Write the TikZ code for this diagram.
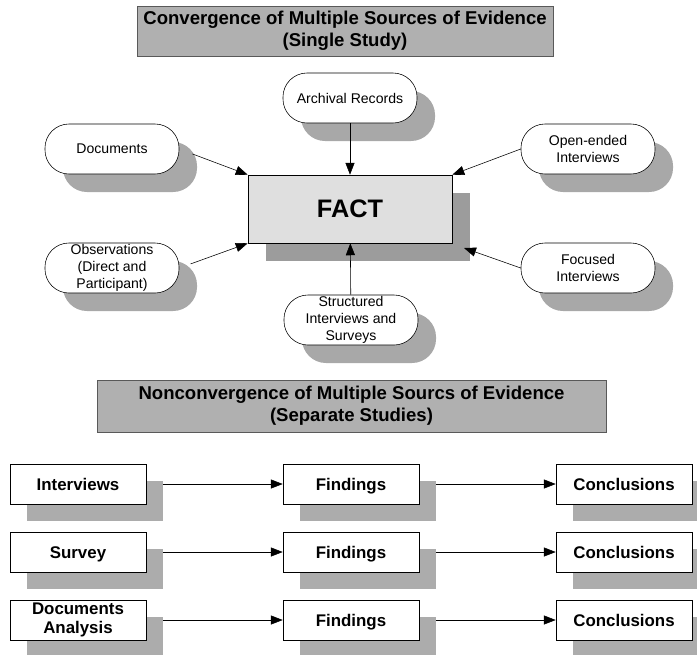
\documentclass[tikz,border=0pt]{standalone}
\usepackage{fontspec}
\setmainfont{Liberation Sans}
\usetikzlibrary{arrows.meta,shadows}

\begin{document}
\begin{tikzpicture}[x=0.025cm,y=-0.025cm,>={Triangle[length=8.5pt,width=6.5pt]},
		source node/.style={draw,fill=white,rounded corners=0.6cm,minimum width=3.35cm,minimum height=1.25cm,
			inner sep=0pt,align=center,font=\fontsize{10}{12}\selectfont,
			drop shadow={shadow xshift=0.45cm,shadow yshift=-0.45cm,fill=gray!68,opacity=1}},
		study node/.style={draw,fill=white,minimum width=3.4cm,minimum height=1cm,inner sep=0pt,
			text height=8.6pt,text depth=0pt,font=\fontsize{12}{14}\selectfont\bfseries,
			drop shadow={shadow xshift=0.425cm,shadow yshift=-0.425cm,fill=gray!65,opacity=1}},
		banner/.style={fill=gray!62,draw=gray!70!black,inner sep=0pt,align=center,
			font=\fontsize{13.2}{15.5}\selectfont\bfseries}]

	\useasboundingbox (0,0) rectangle (697,654);

	% Banners
	\node[banner,minimum width=10.4cm,minimum height=1.25cm] (top) at (345,31)
		{Convergence of Multiple Sources of Evidence\\(Single Study)};
	\node[banner,minimum width=12.72cm,minimum height=1.3cm] (bottom) at (351.5,406)
		{Nonconvergence of Multiple Sourcs of Evidence\\(Separate Studies)};

	% Nodes
	% Single study
	\node[draw,fill=gray!25,minimum width=5.1cm,minimum height=1.7cm,font=\fontsize{18}{20}\selectfont\bfseries,
		drop shadow={shadow xshift=0.45cm,shadow yshift=-0.45cm,fill=gray!78,opacity=1}] (fact) at (350,209) {FACT};
	\node[source node] (arch) at (350,98) {Archival Records};
	\node[source node] (docs) at (112,149) {Documents};
	\node[source node] (obs) at (112,268) {Observations\\(Direct and\\Participant)};
	\node[source node] (open) at (588,149) {Open-ended\\Interviews};
	\node[source node] (foc) at (588,268) {Focused\\Interviews};
	\node[source node] (struct) at (351,320) {Structured\\Interviews and\\Surveys};
	\coordinate (factse) at (464,248);

	% Separate studies
	\node[study node] (int) at (78,484) {Interviews};
	\node[study node] (fint) at (351,484) {Findings};
	\node[study node] (cint) at (624,484) {Conclusions};
	\node[study node] (sur) at (78,552) {Survey};
	\node[study node] (fsur) at (351,552) {Findings};
	\node[study node] (csur) at (624,552) {Conclusions};
	\node[study node,align=center,text height=,text depth=] (doc) at (78,620) {Documents\\Analysis};
	\node[study node] (fdoc) at (351,620) {Findings};
	\node[study node] (cdoc) at (624,620) {Conclusions};

	% Edges
	\draw[->] (arch) -- (fact);
	\draw[->] (struct) -- (fact);
	\draw[->,shorten <=0.35cm] (docs.east) -- (fact.north west);
	\draw[->,shorten <=0.3cm] (obs.east) -- (fact.south west);
	\draw[->] (open.west) -- (fact.north east);
	\draw[->] (foc.west) -- (factse);

	\draw[->,shorten <=0.425cm] (int) -- (fint);
	\draw[->,shorten <=0.425cm] (fint) -- (cint);
	\draw[->,shorten <=0.425cm] (sur) -- (fsur);
	\draw[->,shorten <=0.425cm] (fsur) -- (csur);
	\draw[->,shorten <=0.425cm] (doc) -- (fdoc);
	\draw[->,shorten <=0.425cm] (fdoc) -- (cdoc);
\end{tikzpicture}
\end{document}
